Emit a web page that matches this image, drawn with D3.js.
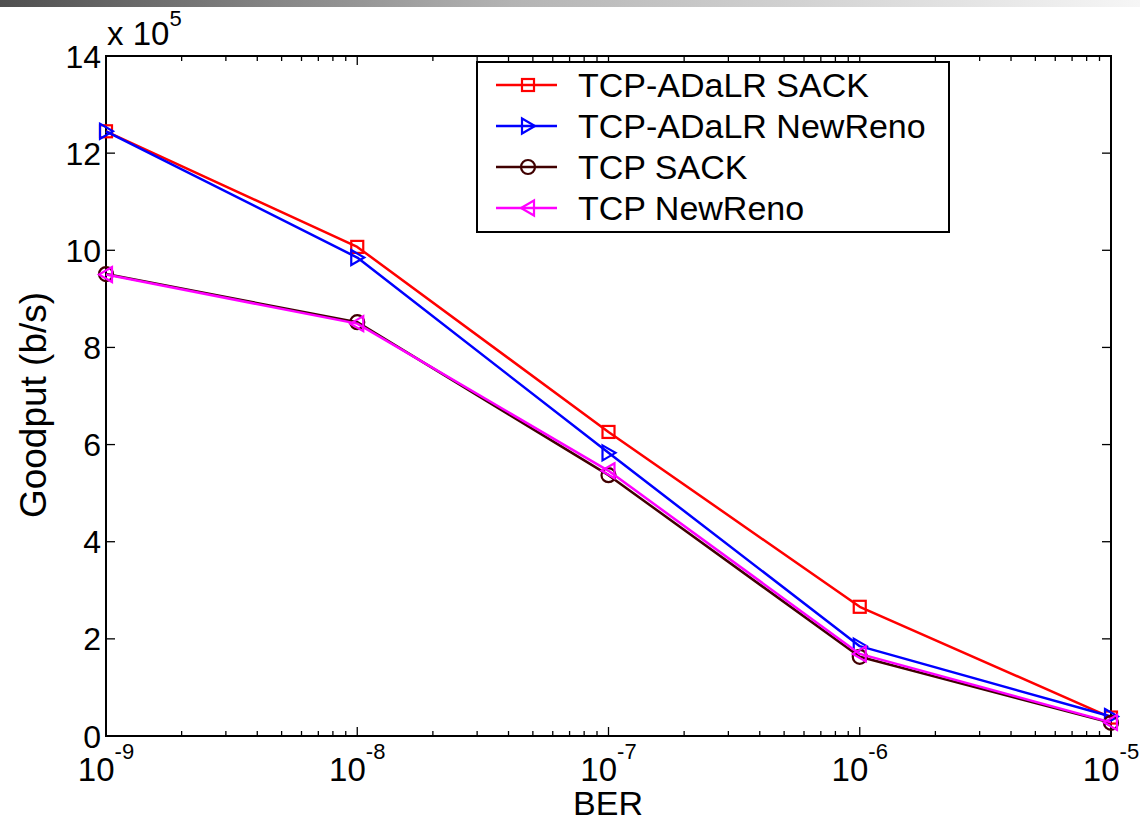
<!DOCTYPE html>
<html>
<head>
<meta charset="utf-8">
<script src="https://cdn.jsdelivr.net/npm/d3@7/dist/d3.min.js"></script>
<style>
  html, body { margin: 0; padding: 0; background: #fff; }
  svg { display: block; font-family: Arial, "Liberation Sans", Helvetica, sans-serif; }
</style>
</head>
<body>
<svg id="chart" width="1140" height="822"></svg>
<script>
// Bit error rates on the x axis
const berValues = [1e-9, 1e-8, 1e-7, 1e-6, 1e-5];

// Goodput (b/s) for each TCP variant
const adalrSack     = [1245000, 1007000, 626000, 266000, 38000];
const adalrNewReno  = [1245000,  985000, 583000, 185000, 40000];
const tcpSack       = [ 951000,  852000, 537000, 163000, 27000];
const tcpNewReno    = [ 950000,  849000, 546000, 169000, 28000];

const seriesNames = ["TCP-ADaLR SACK", "TCP-ADaLR NewReno", "TCP SACK", "TCP NewReno"];
const seriesValues = [adalrSack, adalrNewReno, tcpSack, tcpNewReno];
const seriesColors = ["#ff0000", "#0000ff", "#400000", "#ff00ff"];
const seriesMarkers = ["square", "triangleRight", "circle", "triangleLeft"];

const yTickValues = [0, 200000, 400000, 600000, 800000, 1000000, 1200000, 1400000];
const yExponent = 5;

const svg = d3.select("#chart");
const W = 1140, H = 822;
const plot = { left: 106, right: 1111, top: 56, bottom: 736 };

// Grey header strip along the top edge
const defs = svg.append("defs");
const grad = defs.append("linearGradient").attr("id", "topbar").attr("x1", "0").attr("x2", "1");
grad.append("stop").attr("offset", "0").attr("stop-color", "#4f4f4f");
grad.append("stop").attr("offset", "0.45").attr("stop-color", "#b4b4b4");
grad.append("stop").attr("offset", "1").attr("stop-color", "#f6f6f6");
svg.append("rect").attr("x", 0).attr("y", 0).attr("width", W).attr("height", 7).attr("fill", "url(#topbar)");

const x = d3.scaleLog().domain([1e-9, 1e-5]).range([plot.left, plot.right]);
const y = d3.scaleLinear().domain([0, 1400000]).range([plot.bottom, plot.top]);

// Tick marks on all four sides (inward)
const majorLen = 9, minorLen = 5;
const tickG = svg.append("g").attr("stroke", "#000").attr("stroke-width", 1.3);
const minorX = [];
for (let e = -9; e < -5; e++) for (let m = 2; m <= 9; m++) minorX.push(m * Math.pow(10, e));
minorX.forEach(v => {
  const px = x(v);
  tickG.append("line").attr("x1", px).attr("x2", px).attr("y1", plot.bottom).attr("y2", plot.bottom - minorLen);
  tickG.append("line").attr("x1", px).attr("x2", px).attr("y1", plot.top).attr("y2", plot.top + minorLen);
});
berValues.forEach(v => {
  const px = x(v);
  tickG.append("line").attr("x1", px).attr("x2", px).attr("y1", plot.bottom).attr("y2", plot.bottom - majorLen);
  tickG.append("line").attr("x1", px).attr("x2", px).attr("y1", plot.top).attr("y2", plot.top + majorLen);
});
yTickValues.forEach(v => {
  const py = y(v);
  tickG.append("line").attr("x1", plot.left).attr("x2", plot.left + majorLen).attr("y1", py).attr("y2", py);
  tickG.append("line").attr("x1", plot.right).attr("x2", plot.right - majorLen).attr("y1", py).attr("y2", py);
});

// Axes box
svg.append("rect")
  .attr("x", plot.left).attr("y", plot.top)
  .attr("width", plot.right - plot.left).attr("height", plot.bottom - plot.top)
  .attr("fill", "none").attr("stroke", "#000").attr("stroke-width", 2);

// Y tick labels
const yLabels = svg.append("g").attr("font-size", 32).attr("fill", "#000").attr("text-anchor", "end");
yTickValues.forEach(v => {
  yLabels.append("text").attr("x", plot.left - 5).attr("y", y(v)).attr("dy", "0.36em")
    .text(d3.format("d")(v / Math.pow(10, yExponent)));
});

// Exponent annotation
const expText = svg.append("text").attr("x", plot.left + 1).attr("y", 45).attr("font-size", 33).attr("fill", "#000");
expText.append("tspan").text("x 10");
expText.append("tspan").attr("font-size", 22).attr("dy", -19).text(String(yExponent));

// X tick labels (powers of ten)
berValues.forEach(v => {
  const exp = Math.round(Math.log10(v));
  const t = svg.append("text").attr("x", x(v)).attr("y", 781).attr("font-size", 33)
    .attr("text-anchor", "middle").attr("fill", "#000");
  t.append("tspan").text("10");
  t.append("tspan").attr("font-size", 22).attr("dy", -22).text(String(exp));
});

// Axis titles
svg.append("text").attr("x", 608).attr("y", 815).attr("font-size", 34)
  .attr("text-anchor", "middle").attr("fill", "#000").text("BER");
svg.append("text").attr("transform", "translate(46,405) rotate(-90)").attr("font-size", 37)
  .attr("text-anchor", "middle").attr("fill", "#000").text("Goodput (b/s)");

// Marker drawing
function drawMarker(g, type, cx, cy, color) {
  const sw = 2.2;
  if (type === "square") {
    g.append("rect").attr("x", cx - 6).attr("y", cy - 6).attr("width", 12).attr("height", 12)
      .attr("fill", "none").attr("stroke", color).attr("stroke-width", sw);
  } else if (type === "circle") {
    g.append("circle").attr("cx", cx).attr("cy", cy).attr("r", 7)
      .attr("fill", "none").attr("stroke", color).attr("stroke-width", sw);
  } else if (type === "triangleRight") {
    g.append("path").attr("d", `M${cx - 6},${cy - 7.5}L${cx + 7},${cy}L${cx - 6},${cy + 7.5}Z`)
      .attr("fill", "none").attr("stroke", color).attr("stroke-width", sw);
  } else if (type === "triangleLeft") {
    g.append("path").attr("d", `M${cx + 6},${cy - 7.5}L${cx - 7},${cy}L${cx + 6},${cy + 7.5}Z`)
      .attr("fill", "none").attr("stroke", color).attr("stroke-width", sw);
  }
}

// Series lines and markers
const line = d3.line().x(d => x(d[0])).y(d => y(d[1]));
seriesValues.forEach((vals, i) => {
  const pts = berValues.map((b, j) => [b, vals[j]]);
  const g = svg.append("g");
  g.append("path").attr("d", line(pts)).attr("fill", "none")
    .attr("stroke", seriesColors[i]).attr("stroke-width", 2.5).attr("stroke-linejoin", "round");
  pts.forEach(p => drawMarker(g, seriesMarkers[i], x(p[0]), y(p[1]), seriesColors[i]));
});

// Legend
const lg = svg.append("g");
lg.append("rect").attr("x", 477).attr("y", 62).attr("width", 472).attr("height", 170)
  .attr("fill", "#fff").attr("stroke", "#000").attr("stroke-width", 2);
seriesNames.forEach((name, i) => {
  const cy = 85 + i * 41;
  lg.append("line").attr("x1", 496).attr("x2", 557).attr("y1", cy).attr("y2", cy)
    .attr("stroke", seriesColors[i]).attr("stroke-width", 2.5);
  drawMarker(lg, seriesMarkers[i], 528, cy, seriesColors[i]);
  lg.append("text").attr("x", 578).attr("y", cy).attr("dy", "0.36em").attr("font-size", 34)
    .attr("fill", "#000").text(name);
});
</script>
</body>
</html>
